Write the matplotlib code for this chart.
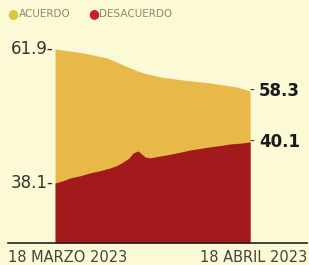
import matplotlib.pyplot as plt

# data (days since 18 March 2023)
acuerdo_days = [0, 4.45, 8.27, 10.8, 13.5, 16.7, 20.3, 24.6, 28.9, 31]
acuerdo = [61.9, 61.56, 61.13, 60.53, 59.93, 59.5, 59.24, 58.99, 58.64, 58.3]
desacuerdo_days = [0, 1.2, 2.38, 4, 5.56, 7.2, 8.74, 9.8, 10.8, 11.7, 12.4,
                   13.2, 14.3, 15.1, 16.4, 17.8, 19.6, 21.5, 23, 24.6, 26.2,
                   27.8, 29.4, 31]
desacuerdo = [38.1, 38.2, 38.34, 38.45, 38.59, 38.7, 38.83, 38.95, 39.12,
              39.3, 39.56, 39.66, 39.37, 39.32, 39.4, 39.47, 39.58, 39.71,
              39.78, 39.86, 39.92, 40.0, 40.04, 40.1]
series_names = ["ACUERDO", "DESACUERDO"]
date_labels = ["18 MARZO 2023", "18 ABRIL 2023"]

bg = "#fcf9d6"
yellow = "#e8b848"
red = "#a31a1d"

fig = plt.figure(figsize=(3.09, 2.65), dpi=100, facecolor=bg)
rect = [0.026, 0.083, 0.968, 0.804]
ax = fig.add_axes(rect)
ax.set_facecolor(bg)
# each series has its own stretched scale, as in the original graphic
ax2 = fig.add_axes(rect, sharex=ax)
ax2.patch.set_visible(False)

ax.fill_between(acuerdo_days, 45.27, acuerdo, color=yellow, lw=0)
ax.set_ylim(45.27, 63.53)
ax2.fill_between(desacuerdo_days, 35.17, desacuerdo, color=red, lw=0)
ax2.set_ylim(35.17, 45.56)

ax.set_xlim(-7.47, 40.06)
for a in (ax, ax2):
    for s in ["top", "right", "left", "bottom"]:
        a.spines[s].set_visible(False)
    a.set_xticks([])
    a.set_yticks([])
ax2.spines["bottom"].set_visible(True)
ax2.spines["bottom"].set_color("#222222")
ax2.spines["bottom"].set_linewidth(1.2)

# left value labels
ax.text(-0.3, acuerdo[0], f"{acuerdo[0]}-", ha="right", va="center",
        fontsize=12, color="#333333", family="DejaVu Sans")
ax2.text(-0.3, desacuerdo[0], f"{desacuerdo[0]}-", ha="right", va="center",
         fontsize=12, color="#333333", family="DejaVu Sans")

# right value labels
for a, vals in ((ax, acuerdo), (ax2, desacuerdo)):
    a.text(30.9, vals[-1], "-", ha="left", va="center", fontsize=10,
           color="#333333", family="DejaVu Sans")
    a.text(32.4, vals[-1], f"{vals[-1]}", ha="left", va="center",
           fontsize=12, color="#1a1a1a", fontweight="bold",
           family="DejaVu Sans")

# date labels
fig.text(0.026, 0.03, date_labels[0], ha="left", va="center", fontsize=10.5,
         color="#444444", family="DejaVu Sans")
fig.text(0.994, 0.03, date_labels[1], ha="right", va="center", fontsize=10.5,
         color="#444444", family="DejaVu Sans")

# legend
fig.text(0.042, 0.948, "\u25cf", ha="center", va="center", fontsize=9,
         color="#d8c83a")
fig.text(0.062, 0.948, series_names[0], ha="left", va="center", fontsize=7.5,
         color="#8a8a6a", family="DejaVu Sans")
fig.text(0.302, 0.948, "\u25cf", ha="center", va="center", fontsize=9,
         color="#c8202a")
fig.text(0.322, 0.948, series_names[1], ha="left", va="center", fontsize=7.5,
         color="#8a8a6a", family="DejaVu Sans")

fig.savefig("out.png", dpi=100, facecolor=bg)
